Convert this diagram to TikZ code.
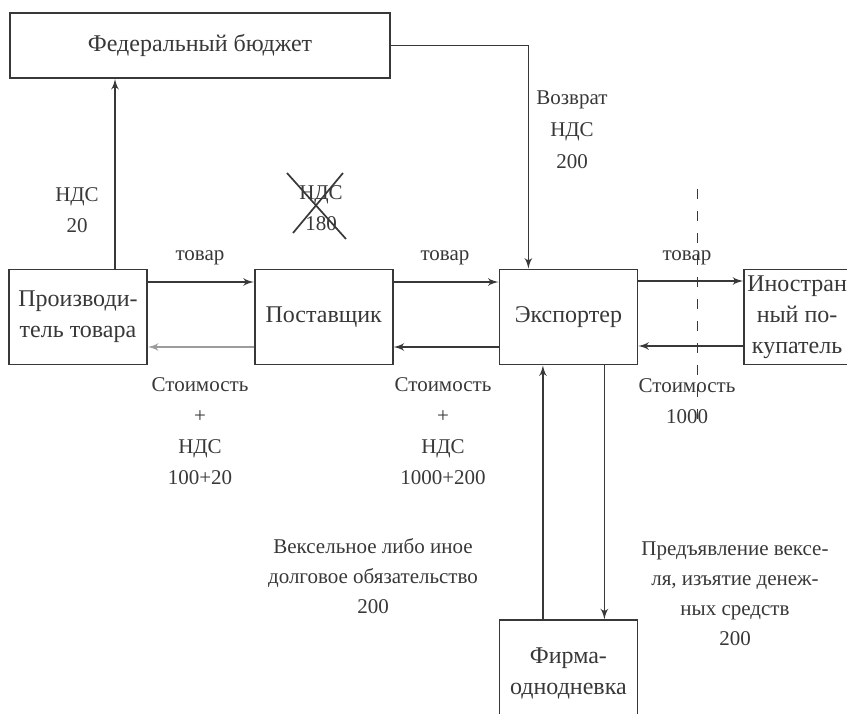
\documentclass[tikz,border=0pt]{standalone}
\usepackage{fontspec}
\setmainfont{Liberation Serif}
\usepackage{xcolor}
\usetikzlibrary{shapes.geometric, arrows, positioning}
\colorlet{ink}{black!78}

\begin{document}
\begin{tikzpicture}[x=0.5pt, y=-0.5pt, node distance=52.5pt, ink, line width=0.85pt]
\tikzstyle{block} = [rectangle, draw, minimum width=69pt, minimum height=47.5pt, align=center, font=\fontsize{12}{15.5}\selectfont, inner sep=1pt]
\tikzstyle{line} = [draw, -latex']
\tikzstyle{note} = [align=center, font=\fontsize{10.5}{15.5}\selectfont, inner sep=0pt]

\useasboundingbox (0,0) rectangle (847,713);
\clip (0,0) rectangle (847,713);

\node [block, minimum width=190pt, minimum height=32.5pt] (budget) at (200,45.5) {Федеральный бюджет};
\node [block] (producer) at (78,317) {Производи-\\тель товара};
\node [block, right=53pt of producer] (supplier) {Поставщик};
\node [block, right=of supplier] (exporter) {Экспортер};
\node [block, right=of exporter, minimum width=53pt] (buyer) {Иностран\\ный по-\\купатель};
\node [block, below=127pt of exporter, minimum height=53pt] (firm) {Фирма-\\однодневка};

% edge labels
\node [note] (vat20) at (77,210.5) {НДС\\20};
\node [note] (vat180) at (321,208) {НДС\\180};
\node [note] (goods1) at (200,258) {товар};
\node [note] (goods2) at (445,258) {товар};
\node [note] (goods3) at (687,258) {товар};
\node [note, font=\fontsize{10.5}{16}\selectfont] (refund) at (572,130) {Возврат\\НДС\\200};
\node [note] (pay1) at (200,431.5) {Стоимость\\+\\НДС\\100+20};
\node [note] (pay2) at (443,431.5) {Стоимость\\+\\НДС\\1000+200};
\node [note] (pay3) at (687,401) {Стоимость\\1000};
\node [note, font=\fontsize{10.5}{15}\selectfont] (bill) at (373,576) {Вексельное либо иное\\долговое обязательство\\200};
\node [note, font=\fontsize{10.5}{15}\selectfont] (cash) at (735,594) {Предъявление вексе-\\ля, изъятие денеж-\\ных средств\\200};

% crossed out VAT
\draw ([shift={(-34,-35)}]vat180.center) -- ([shift={(25,31)}]vat180.center);
\draw ([shift={(-28,25)}]vat180.center) -- ([shift={(22,-35)}]vat180.center);

% customs border
\coordinate (border top) at (697,189);
\coordinate (border bottom) at (697,425);
\draw [line width=0.5pt, dash pattern=on 5pt off 6pt] (border top) -- (border bottom);

\path [line] ([xshift=18.5pt]producer.north) -- ([xshift=18.5pt]producer.north |- budget.south);
\path [line] (budget.east) -| ([xshift=-20pt]exporter.north);
\path [line] ([yshift=17.5pt]producer.east) -- ([yshift=17.5pt]supplier.west);
\path [line, draw=ink!50] ([yshift=-15pt]supplier.west) -- ([yshift=-15pt]producer.east);
\path [line] ([yshift=17.5pt]supplier.east) -- ([yshift=17.5pt]exporter.west);
\path [line] ([yshift=-15pt]exporter.west) -- ([yshift=-15pt]supplier.east);
\path [line] ([yshift=18pt]exporter.east) -- ([yshift=18pt]buyer.west);
\path [line] ([yshift=-14.5pt]buyer.west) -- ([yshift=-14.5pt]exporter.east);
\path [line] ([xshift=-12.75pt]firm.north) -- ([xshift=-12.75pt]exporter.south);
\path [line] ([xshift=18pt]exporter.south) -- ([xshift=18pt]firm.north);

\end{tikzpicture}
\end{document}
